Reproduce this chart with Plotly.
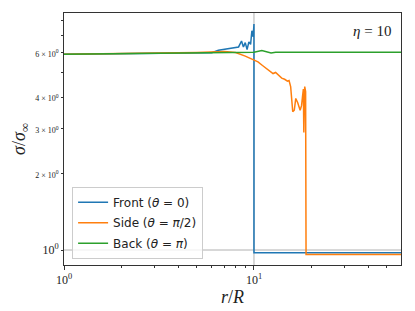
import plotly.graph_objects as go

# ---- data ----
front_x = [1.0, 2.0, 3.0, 4.0, 5.0, 6.0, 6.5, 6.8, 7.2, 7.6, 8.0, 8.3, 8.6, 8.8, 9.0, 9.2, 9.4, 9.6, 9.75, 9.9, 10.0, 10.0, 15.0, 20.0, 30.0, 45.0, 60.0]
front_y = [5.9, 5.92, 5.94, 5.95, 5.96, 5.98, 6.12, 6.15, 6.2, 6.25, 6.25, 6.3, 6.65, 6.3, 6.55, 6.15, 6.6, 6.45, 7.3, 6.9, 7.75, 0.975, 0.975, 0.975, 0.975, 0.975, 0.975]

side_x = [1.0, 3.0, 5.0, 7.0, 8.0, 9.0, 10.0, 10.5, 11.0, 12.0, 12.6, 13.0, 13.5, 14.0, 14.5, 15.0, 15.3, 15.6, 16.0, 16.3, 16.6, 17.0, 17.5, 17.8, 18.0, 18.2, 18.3, 18.5, 18.7, 18.8, 19.0, 30.0, 60.0]
side_y = [5.9, 5.94, 5.99, 6.04, 5.99, 5.8, 5.6, 5.5, 5.35, 5.1, 4.95, 5.0, 4.85, 4.75, 4.7, 4.62, 4.65, 4.4, 3.5, 3.55, 3.95, 3.8, 3.55, 3.7, 4.0, 4.3, 2.9, 4.4, 4.2, 0.96, 0.96, 0.96, 0.96]

back_x = [1.0, 2.0, 3.0, 5.0, 7.0, 9.0, 10.0, 11.0, 11.8, 12.3, 13.0, 20.0, 30.0, 45.0, 60.0]
back_y = [5.9, 5.93, 5.95, 5.98, 6.0, 5.98, 6.0, 6.1, 6.0, 5.96, 6.0, 6.0, 6.0, 6.0, 6.0]

eta = 10
series_names = ["Front (<i>θ</i> = 0)", "Side (<i>θ</i> = <i>π</i>/2)", "Back (<i>θ</i> = <i>π</i>)"]
colors = ["#1f77b4", "#ff7f0e", "#2ca02c"]

y_tickvals = [1, 2, 3, 4, 5, 6, 7, 8]
y_ticktext = [
    "<span style='font-size:12px'>10<sup>0</sup></span>",
    "<span style='font-size:8px'>2 × 10<sup>0</sup></span>",
    "<span style='font-size:8px'>3 × 10<sup>0</sup></span>",
    "<span style='font-size:8px'>4 × 10<sup>0</sup></span>",
    " ",
    "<span style='font-size:8px'>6 × 10<sup>0</sup></span>",
    " ",
    " ",
]
x_tickvals = [1, 10]
x_ticktext = ["10<sup>0</sup>", "10<sup>1</sup>"]
x_minor = [2, 3, 4, 5, 6, 7, 8, 9, 20, 30, 40, 50]

fig = go.Figure()
for i, (xs, ys, name, c) in enumerate(zip([front_x, side_x, back_x], [front_y, side_y, back_y], series_names, colors)):
    fig.add_trace(go.Scatter(x=xs, y=ys, mode="lines", name=name, legendgroup=f"g{i}",
                             line=dict(color=c, width=1.5)))

fig.add_vline(x=eta, line=dict(color="#b0b0b0", width=1), layer="below")
fig.add_hline(y=1, line=dict(color="#b0b0b0", width=1), layer="below")

axis_common = dict(showgrid=False, zeroline=False, showline=True, linecolor="#333333",
                   linewidth=1, mirror=True, ticks="outside", tickcolor="#333333",
                   automargin=False,
                   tickfont=dict(family="Liberation Serif", size=12, color="#222"))

fig.update_layout(
    width=415, height=311,
    margin=dict(l=64, r=14, t=13, b=46),
    paper_bgcolor="white", plot_bgcolor="white",
    showlegend=True,
    legend=dict(x=0.024, y=0.025, xanchor="left", yanchor="bottom",
                bgcolor="rgba(255,255,255,0.8)", bordercolor="#cccccc", borderwidth=1,
                font=dict(family="DejaVu Sans", size=12, color="#222"),
                itemwidth=30, tracegroupgap=1.5),
    xaxis=dict(type="log", range=[0, 1.774], tickmode="array", tickvals=x_tickvals,
               ticktext=x_ticktext, ticklen=3.5,
               minor=dict(tickmode="array", tickvals=x_minor, ticks="outside", ticklen=2,
                          tickcolor="#333333"),
               title=dict(text="<i>r</i>/<i>R</i>", font=dict(family="Liberation Serif", size=18, color="#222"),
                          standoff=4),
               **axis_common),
    yaxis=dict(type="log", range=[-0.059, 0.933], tickmode="array", tickvals=y_tickvals,
               ticktext=y_ticktext, ticklen=2,
               title=dict(text="<i>σ</i>/<i>σ</i><sub>∞</sub>", font=dict(family="Liberation Serif", size=18, color="#222"),
                          standoff=4),
               **axis_common),
    annotations=[dict(text="<i>η</i> = 10", xref="paper", yref="paper", x=0.975, y=0.93,
                      xanchor="right", yanchor="middle", showarrow=False,
                      font=dict(family="Liberation Serif", size=15, color="#222"))],
)

fig.write_html("out.html", config={"displayModeBar": False},
               post_script="document.body.style.margin='0';")
